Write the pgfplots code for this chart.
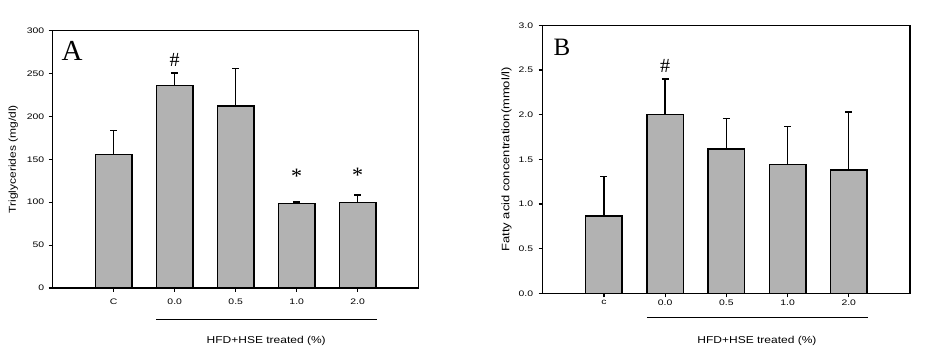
\documentclass[border=0pt]{standalone}
\usepackage{fontspec}
\setmainfont{Liberation Sans}
\newfontfamily\labfont{Liberation Sans}[FakeStretch=1.2]
\newfontfamily\tickfont{Liberation Sans}[FakeStretch=1.3]
\newfontfamily\serfont{Liberation Serif}
\usepackage{pgfplots}
\pgfplotsset{compat=1.18}
\definecolor{barfill}{RGB}{178,178,178}
\pgfplotsset{
 panel/.style={
  scale only axis, width=366pt, height=257.3pt,
  xmin=-1, xmax=5, ymin=0,
  xtick={0,1,2,3,4},
  axis line style={line width=1.4pt},
  tick style={line width=1.2pt, black},
  tick align=outside, tick pos=left,
  major tick length=4pt,
  ybar, bar width=36.5pt,
  ticklabel style={font=\tickfont\fontsize{8}{9}\selectfont},
  /pgf/number format/assume math mode=true,
  clip=false,
 },
 bars/.style={fill=barfill, draw=black, line width=1.4pt,
  error bars/.cd, y dir=plus, y explicit,
  error bar style={line width=1.3pt, black, solid},
  error mark options={line width=1.3pt, black, mark size=3.5pt, rotate=90}},
}
\begin{document}
\begin{tikzpicture}
\useasboundingbox (0,0) rectangle (930pt,361pt);
\begin{axis}[panel, at={(52.7pt,73pt)}, anchor=south west,
  ymax=300, ytick={0,50,100,150,200,250,300},
  xticklabels={C,0.0,0.5,1.0,2.0},
  xticklabel style={yshift=-3.5pt}, yticklabel style={xshift=-1pt}]
\addplot[bars] coordinates {(0,156) +- (0,28) (1,236) +- (0,14.5) (2,212) +- (0,44) (3,98.8) +- (0,1.5) (4,100) +- (0,8.5)};
\node[font=\serfont\fontsize{29}{30}\selectfont] at ([xshift=19.5pt,yshift=-20.5pt]rel axis cs:0,1) {A};
\node[font=\serfont\fontsize{20}{22}\selectfont] at (axis cs:1,266) {\#};
\node[font=\serfont\fontsize{22}{24}\selectfont, yshift=-4pt] at (axis cs:3,134.5) {*};
\node[font=\serfont\fontsize{22}{24}\selectfont, yshift=-4pt] at (axis cs:4,135.7) {*};
\node[rotate=90, font=\labfont\fontsize{10}{12}\selectfont] at ([xshift=-39.4pt]rel axis cs:0,0.5) {Triglycerides (mg/dl)};
\draw[line width=1.3pt] ([yshift=-31.3pt]axis cs:0.7,0) -- ([yshift=-31.3pt]axis cs:4.31,0);
\node[font=\labfont\fontsize{10}{12}\selectfont] at ([yshift=-53pt]axis cs:2.5,0) {HFD+HSE treated (\%)};
\end{axis}
\begin{axis}[panel, at={(542.7pt,67.7pt)}, anchor=south west, width=367.3pt, height=268pt,
  ymax=3, ytick={0,0.5,1,1.5,2,2.5,3},
  yticklabel style={xshift=-2pt, /pgf/number format/.cd, fixed, fixed zerofill, precision=1},
  xticklabels={c,0.0,0.5,1.0,2.0},
  xticklabel style={yshift=1pt}]
\addplot[bars] coordinates {(0,0.866) +- (0,0.444) (1,2.0) +- (0,0.40) (2,1.615) +- (0,0.345) (3,1.445) +- (0,0.42) (4,1.38) +- (0,0.65)};
\node[font=\serfont\fontsize{25}{27}\selectfont] at ([xshift=19.3pt,yshift=-22pt]rel axis cs:0,1) {B};
\node[font=\serfont\fontsize{20}{22}\selectfont] at (axis cs:1,2.545) {\#};
\node[rotate=90, font=\labfont\fontsize{10.8}{12}\selectfont] at ([xshift=-36pt]rel axis cs:0,0.5) {Fatty acid concentration(mmol/l)};
\draw[line width=1.3pt] ([yshift=-24pt]axis cs:0.7,0) -- ([yshift=-24pt]axis cs:4.31,0);
\node[font=\labfont\fontsize{10}{12}\selectfont] at ([yshift=-47.7pt]axis cs:2.5,0) {HFD+HSE treated (\%)};
\end{axis}
\end{tikzpicture}
\end{document}
